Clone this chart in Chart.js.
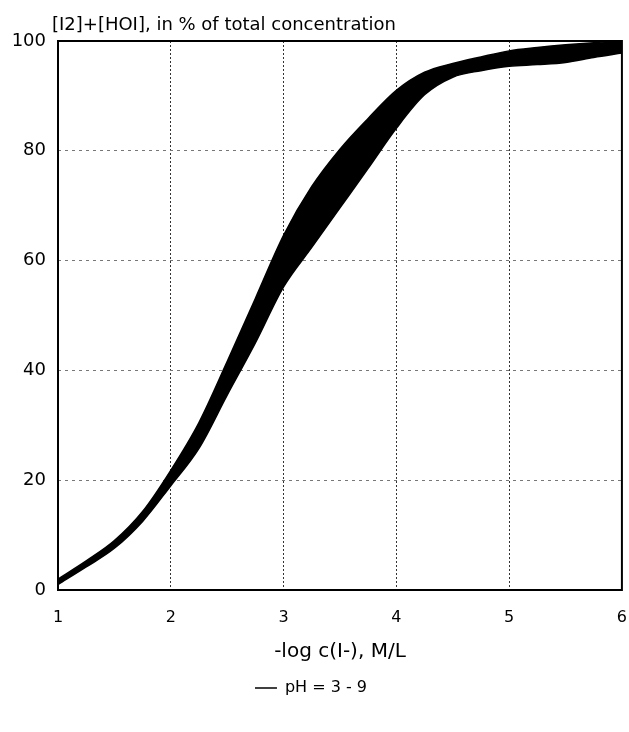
<!DOCTYPE html>
<html>
<head>
<meta charset="utf-8">
<title>[I2]+[HOI] vs -log c(I-)</title>
<script src="https://cdn.jsdelivr.net/npm/chart.js@4/dist/chart.umd.min.js"></script>
<style>
    html, body { margin: 0; padding: 0; background: #fff; overflow: hidden; }
    .chart-wrapper { width: 629px; height: 732px; position: relative; }
</style>
</head>
<body>
<div class="chart-wrapper">
    <canvas id="mainChart"></canvas>
</div>
<script>
// Werte (Band pH 3 - 9)
const xValues = [1, 1.25, 1.5, 1.75, 2, 2.25, 2.5, 2.75, 3, 3.25, 3.5, 3.75, 4, 4.25, 4.5, 4.75, 5, 5.25, 5.5, 5.75, 6];
const upperBand = [2.0, 5.3, 9.0, 14.3, 21.8, 30.5, 41.6, 53.1, 64.6, 73.5, 80.3, 85.9, 91.0, 94.3, 95.9, 97.1, 98.2, 98.8, 99.3, 99.7, 100];
const lowerBand = [1.0, 4.2, 7.6, 12.5, 19.0, 25.8, 35.5, 45.0, 55.2, 62.4, 69.6, 76.8, 84.1, 90.2, 93.4, 94.6, 95.4, 95.7, 96.1, 97.0, 97.8];

const xTicks = [1, 2, 3, 4, 5, 6];
const yTicks = [0, 20, 40, 60, 80, 100];

const yTitle = '[I2]+[HOI], in % of total concentration';
const xTitle = '-log c(I-), M/L';
const seriesLabel = 'pH = 3 - 9';

Chart.defaults.font.family = '"DejaVu Sans", sans-serif';
Chart.defaults.color = '#000';

// Rahmen + Achsentitel oben links
const framePlugin = {
    id: 'frame',
    afterDraw(chart) {
        const { ctx, chartArea: a } = chart;
        ctx.save();
        ctx.strokeStyle = '#000';
        ctx.lineWidth = 2;
        ctx.strokeRect(a.left, a.top, a.right - a.left, a.bottom - a.top);
        ctx.font = '18px "DejaVu Sans", sans-serif';
        ctx.fillStyle = '#000';
        ctx.textBaseline = 'middle';
        ctx.textAlign = 'left';
        ctx.fillText(yTitle, a.left - 6, a.top - 16);
        ctx.restore();
    }
};

const toPoints = arr => arr.map((y, i) => ({ x: xValues[i], y }));

new Chart(document.getElementById('mainChart'), {
    type: 'line',
    data: {
        datasets: [
            {
                label: seriesLabel,
                data: toPoints(lowerBand),
                borderColor: '#000',
                backgroundColor: '#000',
                borderWidth: 1.5,
                pointRadius: 0,
                cubicInterpolationMode: 'monotone',
                fill: false
            },
            {
                label: 'upper',
                data: toPoints(upperBand),
                borderColor: '#000',
                backgroundColor: '#000',
                borderWidth: 1.5,
                pointRadius: 0,
                cubicInterpolationMode: 'monotone',
                fill: '-1'
            }
        ]
    },
    options: {
        responsive: true,
        maintainAspectRatio: false,
        animation: false,
        layout: {
            padding: { top: 41, right: 7, left: 0, bottom: 26 }
        },
        plugins: {
            tooltip: { enabled: false },
            legend: {
                position: 'bottom',
                labels: {
                    filter: item => item.text === seriesLabel,
                    usePointStyle: true,
                    pointStyle: 'line',
                    pointStyleWidth: 22,
                    font: { size: 16 },
                    color: '#000',
                    padding: 10
                }
            }
        },
        scales: {
            x: {
                type: 'linear',
                min: 1,
                max: 6,
                afterBuildTicks: scale => { scale.ticks = xTicks.map(v => ({ value: v })); },
                afterFit: scale => { scale.height = 80; },
                ticks: {
                    font: { size: 16 },
                    padding: 2,
                    color: '#000'
                },
                title: {
                    display: true,
                    text: xTitle,
                    font: { size: 20 },
                    color: '#000',
                    padding: { top: 0, bottom: 6 }
                },
                grid: {
                    // unsichtbare Tickmarks als Abstand zu den Labels
                    drawTicks: true,
                    tickLength: 16,
                    tickColor: 'rgba(0,0,0,0)',
                    color: '#333',
                    lineWidth: 1
                },
                border: {
                    display: false,
                    dash: [2, 2]
                }
            },
            y: {
                min: 0,
                max: 100,
                afterBuildTicks: scale => { scale.ticks = yTicks.map(v => ({ value: v })); },
                afterFit: scale => { scale.width = 58; },
                ticks: {
                    font: { size: 18 },
                    padding: 12,
                    color: '#000'
                },
                grid: {
                    drawTicks: false,
                    color: '#777',
                    lineWidth: 1
                },
                border: {
                    display: false,
                    dash: [3, 4]
                }
            }
        }
    },
    plugins: [framePlugin]
});
</script>
</body>
</html>
